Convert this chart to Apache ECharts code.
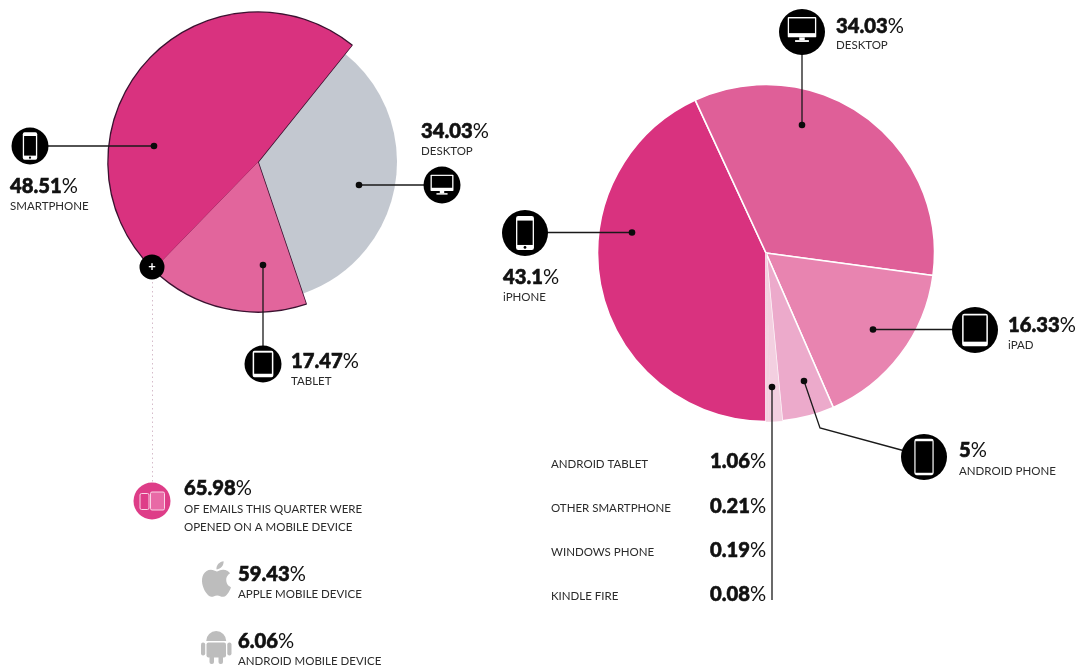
<!DOCTYPE html>
<html><head><meta charset="utf-8">
<style>html,body{margin:0;padding:0;background:#fff}#c{width:1079px;height:668px}</style>
<script src="https://cdn.jsdelivr.net/npm/echarts@6/dist/echarts.min.js"></script></head>
<body><div id="c"></div>
<script>
// ---------- data ----------
const envCategories = ['DESKTOP', 'TABLET', 'SMARTPHONE'];
const envValues = [34.03, 17.47, 48.51];
const deviceCategories = ['iPHONE', 'DESKTOP', 'iPAD', 'ANDROID PHONE', 'ANDROID TABLET', 'OTHER SMARTPHONE', 'WINDOWS PHONE', 'KINDLE FIRE'];
const deviceValues = [43.1, 34.03, 16.33, 5, 1.06, 0.21, 0.19, 0.08];
const mobileShare = 65.98;
const appleShare = 59.43;
const androidShare = 6.06;

// ---------- styles ----------
const PINK = '#d9327f', PINK2 = '#df5f98', PINK3 = '#e884b0', PINK4 = '#ecaacb', PINK5 = '#f3cfe0';
const GREY = '#c3c8d0', OUT = '#3b1230', INK = '#111', SUB = '#2b2b2b';
const envColors = [GREY, '#e2659c', PINK];
const deviceColors = [PINK, PINK2, PINK3, PINK4, PINK5, PINK5, PINK5, PINK5];
const FF = 'Lato, "Open Sans", sans-serif';
const CLEAR = 'rgba(0,0,0,0)';

const leftCenter = [258, 162], leftStart = 51.2;
const g = [];
const Z = 50;
function num(v, x, y, size) {
  g.push({type:'text', z:Z, x, y, style:{
    text:`{n|${v}}{p|%}`, verticalAlign:'middle', align:'left',
    rich:{n:{fontFamily:FF, fontWeight:900, fontSize:size||20.2, fill:INK, stroke:INK, lineWidth:0.6},
          p:{fontFamily:FF, fontWeight:400, fontSize:size||20.2, fill:INK}}}});
}
function sub(t, x, y) {
  g.push({type:'text', z:Z, x, y, style:{text:t, fontFamily:FF, fontSize:11.5, fontWeight:400, fill:SUB, verticalAlign:'middle', align:'left'}});
}
function line(points, color, w) {
  g.push({type:'polyline', z:Z, shape:{points}, style:{stroke:color||'#1a1a1a', lineWidth:w||1.3, fill:null}});
}
function dot(x, y) {
  g.push({type:'circle', z:Z+1, shape:{cx:x, cy:y, r:3.3}, style:{fill:'#0b0b0b'}});
}
function disc(x, y, r, c) {
  g.push({type:'circle', z:Z+1, shape:{cx:x, cy:y, r}, style:{fill:c||'#000'}});
}
function rrect(x, y, w, h, r, fill, stroke, lw) {
  g.push({type:'rect', z:Z+2, shape:{x, y, width:w, height:h, r}, style:{fill:fill||null, stroke:stroke||null, lineWidth:lw||1}});
}
function phone(cx, cy, s) { // s = disc radius
  const w = s*0.78, h = s*1.48;
  rrect(cx-w/2, cy-h/2, w, h, s*0.1, '#fff');
  rrect(cx-w/2+1.3, cy-h/2+s*0.2, w-2.6, h-s*0.42, 0, '#000');
  g.push({type:'circle', z:Z+3, shape:{cx, cy:cy+h/2-s*0.11, r:s*0.06}, style:{fill:'#000'}});
}
function slimPhone(cx, cy, s) {
  const w = s*0.84, h = s*1.58;
  rrect(cx-w/2, cy-h/2, w, h, s*0.1, '#fff');
  rrect(cx-w/2+1.2, cy-h/2+2.4, w-2.4, h-4.8, 0, '#000');
}
function tablet(cx, cy, s) {
  const w = s*1.12, h = s*1.42;
  rrect(cx-w/2, cy-h/2, w, h, s*0.1, '#fff');
  rrect(cx-w/2+1.5, cy-h/2+1.8, w-3, h-s*0.28, 0, '#000');
}
function desktop(cx, cy, s) {
  const w = s*1.24, h = s*0.88;
  rrect(cx-w/2, cy-h/2-s*0.12, w, h, s*0.04, '#fff');
  rrect(cx-w/2+1.3, cy-h/2-s*0.12+1.3, w-2.6, h-s*0.24, 0, '#000');
  rrect(cx-s*0.12, cy+h/2-s*0.12, s*0.24, s*0.12, 0, '#fff');
  rrect(cx-s*0.3, cy+h/2, s*0.6, s*0.08, 0, '#fff');
}
const applePath = 'M18.71,19.5C17.88,20.74 17,21.95 15.66,21.97C14.32,22 13.89,21.18 12.37,21.18C10.84,21.18 10.37,21.95 9.1,22C7.79,22.05 6.8,20.68 5.96,19.47C4.25,17 2.94,12.45 4.7,9.39C5.57,7.87 7.13,6.91 8.82,6.88C10.1,6.86 11.32,7.75 12.11,7.75C12.89,7.75 14.37,6.68 15.92,6.84C16.57,6.87 18.39,7.1 19.56,8.82C19.47,8.88 17.39,10.1 17.41,12.63C17.44,15.65 20.06,16.66 20.09,16.67C20.06,16.74 19.67,18.11 18.71,19.5M13,3.5C13.73,2.67 14.94,2.04 15.94,2C16.07,3.17 15.6,4.35 14.9,5.19C14.21,6.04 13.07,6.7 11.95,6.61C11.8,5.46 12.36,4.26 13,3.5Z';

// ---------- left pie annotations ----------
line([[30,146],[154,146]]); dot(154,146); disc(30,146,18.5); phone(30,146,18.5);
num(envValues[2].toFixed(2), 10, 186); sub(envCategories[2], 10, 206);
line([[359,185],[442,185]]); dot(359,185); disc(442,185,18.5); desktop(442,185,18.5);
num(envValues[0].toFixed(2), 421, 131); sub(envCategories[0], 421, 151);
line([[263,265],[263,364]]); dot(263,265); disc(263,364,18.5); tablet(263,364,18.5);
num(envValues[1].toFixed(2), 291, 361); sub(envCategories[1], 291, 381);
disc(152,267,12.5);
g.push({type:'text', z:Z+2, x:152, y:267, style:{text:'+', fontFamily:FF, fontWeight:700, fontSize:13, fill:'#fff', align:'center', verticalAlign:'middle'}});
g.push({type:'line', z:Z, shape:{x1:152.5,y1:282,x2:152.5,y2:482}, style:{stroke:'#d6bcca', lineWidth:1, lineDash:[1.5,3]}});

// ---------- mobile block ----------
disc(152,501,18.5,'#de3d88');
rrect(140,493.5,9,16,1.5,null,'#f9d5e6',1);
rrect(150.5,492,14,18,1.5,'#e86aa6','#f9d5e6',1);
num(mobileShare.toFixed(2), 184, 488);
sub('OF EMAILS THIS QUARTER WERE', 184, 509);
sub('OPENED ON A MOBILE DEVICE', 184, 527);
num(appleShare.toFixed(2), 238, 574); sub('APPLE MOBILE DEVICE', 238, 594);
// android glyph
g.push({type:'sector', z:Z, shape:{cx:216.2, cy:641, r:10, startAngle:Math.PI, endAngle:2*Math.PI, clockwise:true}, style:{fill:'#bdbdbd'}});
rrect(206.5,642.5,19.5,15,2,'#bdbdbd');
rrect(201,642.5,4.2,13,2,'#bdbdbd');
rrect(227.3,642.5,4.2,13,2,'#bdbdbd');
rrect(209.5,655,4.5,9,2,'#bdbdbd');
rrect(218.5,655,4.5,9,2,'#bdbdbd');
num(androidShare.toFixed(2), 238, 641); sub('ANDROID MOBILE DEVICE', 238, 661);

// ---------- right pie annotations ----------
line([[802,32],[802,125]]); dot(802,125); disc(802,32,23); desktop(802,30,23);
num(deviceValues[1].toFixed(2), 836, 26); sub(deviceCategories[1], 836, 45);
line([[525,232.5],[632,232.5]]); dot(632,232.5); disc(525,233,23); phone(525,233,23);
num(String(deviceValues[0]), 503, 277); sub(deviceCategories[0], 503, 297);
line([[873,329.5],[975,329.5]]); dot(873,329.5); disc(975,330,23); tablet(975,330,23);
num(deviceValues[2].toFixed(2), 1008, 325); sub(deviceCategories[2], 1008, 345);
line([[804,381],[820,428],[905,451]]); dot(804,381); disc(924,457,23); slimPhone(924,457,23);
num(String(deviceValues[3]), 959, 450); sub(deviceCategories[3], 959, 471);
line([[772,387],[772,600]]); dot(772,387);
const listY = [[464,461],[508,506],[552,550],[596,594]];
listY.forEach((p,i)=>{ sub(deviceCategories[4+i], 551, p[0]); num(deviceValues[4+i].toFixed(2), 710, p[1]); });

const plain = (cats, vals, cols, fn) => cats.map((name,i)=>({name, value:vals[i], itemStyle:fn(i, cols[i])}));
const base = {type:'pie', silent:true, animation:false, label:{show:false}, labelLine:{show:false}, clockwise:true, minAngle:0, avoidLabelOverlap:false, emphasis:{disabled:true}};

const chart = echarts.init(document.getElementById('c'), null, {renderer:'canvas'});
chart.setOption({
  backgroundColor:'#fff',
  animation:false,
  series:[
    Object.assign({}, base, {name:'Email environment (desktop)', z:1, center:leftCenter, radius:[0,139], startAngle:leftStart,
      data:plain(envCategories, envValues, envColors, (i,c)=> i===0 ? {color:c} : {color:CLEAR})}),
    Object.assign({}, base, {name:'Email environment outline', z:2, center:leftCenter, radius:[0,150], startAngle:leftStart,
      data:plain(envCategories, envValues, envColors, (i,c)=> i===0 ? {color:CLEAR, borderWidth:0} : {color:OUT, borderColor:OUT, borderWidth:1.6})}),
    Object.assign({}, base, {name:'Email environment', z:3, center:leftCenter, radius:[0,149.5], startAngle:leftStart,
      data:plain(envCategories, envValues, envColors, (i,c)=> i===0 ? {color:CLEAR} : {color:c})}),
    Object.assign({}, base, {name:'Device share', z:4, center:[766,253], radius:[0,168.5], startAngle:-90,
      data:plain(deviceCategories, deviceValues, deviceColors, (i,c)=> i<4 ? {color:c, borderColor:'#fff', borderWidth:1.6} : {color:c, borderColor:c, borderWidth:0.4})}),
    {type:'custom', coordinateSystem:'none', silent:true, z:10, data:[[0]],
      renderItem:()=>({type:'path', shape:{pathData:applePath, x:202, y:561, width:29, height:36}, style:{fill:'#bdbdbd'}})}
  ],
  graphic:{elements:g}
});
</script></body></html>
